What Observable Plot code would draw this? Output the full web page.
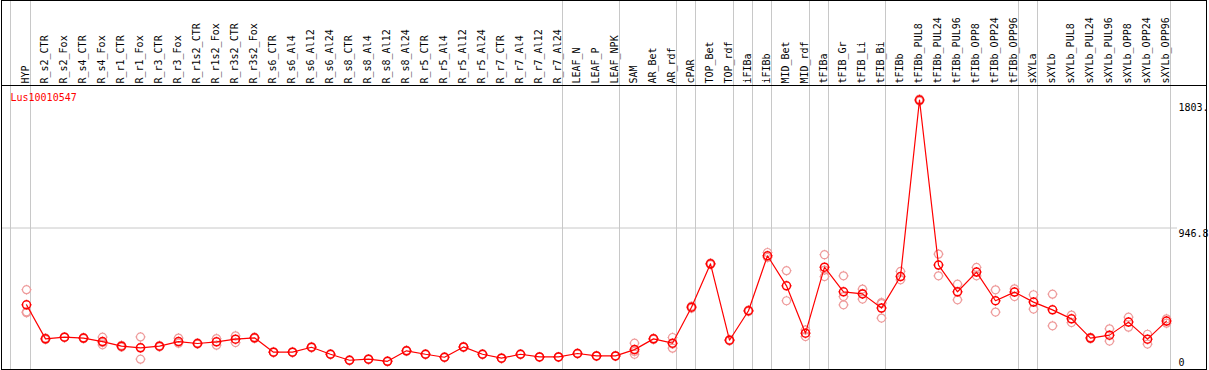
<!DOCTYPE html>
<html>
<head>
<meta charset="utf-8">
<script src="https://cdn.jsdelivr.net/npm/d3@7"></script>
<script src="https://cdn.jsdelivr.net/npm/@observablehq/plot@0.6"></script>
<style>
  html, body { margin: 0; padding: 0; background: white; }
  svg { display: block; }
</style>
</head>
<body>
<div id="chart"></div>
<script>
const geneId = "Lus10010547";

const samples = [
  "HYP","R_s2_CTR","R_s2_Fox","R_s4_CTR","R_s4_Fox","R_r1_CTR","R_r1_Fox","R_r3_CTR","R_r3_Fox",
  "R_r1s2_CTR","R_r1s2_Fox","R_r3s2_CTR","R_r3s2_Fox","R_s6_CTR","R_s6_Al4","R_s6_Al12","R_s6_Al24",
  "R_s8_CTR","R_s8_Al4","R_s8_Al12","R_s8_Al24","R_r5_CTR","R_r5_Al4","R_r5_Al12","R_r5_Al24",
  "R_r7_CTR","R_r7_Al4","R_r7_Al12","R_r7_Al24","LEAF_N","LEAF_P","LEAF_NPK","SAM","AR_Bet","AR_rdf",
  "cPAR","TOP_Bet","TOP_rdf","iFIBa","iFIBb","MID_Bet","MID_rdf","tFIBa","tFIB_Gr","tFIB_Li","tFIB_Bi",
  "tFIBb","tFIBb_PUL8","tFIBb_PUL24","tFIBb_PUL96","tFIBb_OPP8","tFIBb_OPP24","tFIBb_OPP96",
  "sXYLa","sXYLb","sXYLb_PUL8","sXYLb_PUL24","sXYLb_PUL96","sXYLb_OPP8","sXYLb_OPP24","sXYLb_OPP96"
];

const means = [
  433, 205, 216, 210, 187, 156, 145, 156, 187,
  174, 185, 203, 212, 116, 116, 149, 102,
  62, 69, 55, 125, 102, 82, 151, 102,
  76, 102, 84, 84, 107, 91, 91, 133, 205, 176,
  417, 707, 196, 393, 761, 560, 243, 685, 520, 506, 411,
  622, 1803, 699, 520, 652, 460, 518,
  451, 399, 339, 210, 230, 317, 203, 324
];

const replicates = [
  [534, 386, 380], [200, 210], [214, 218], [206, 214], [216, 165, 180], [150, 162], [218, 69, 148], [152, 160], [210, 176],
  [170, 178], [207, 163], [225, 180], [208, 216], [114, 118], [114, 118], [146, 152], [100, 104],
  [60, 64], [67, 71], [53, 57], [122, 128], [100, 104], [80, 84], [148, 154], [100, 104],
  [74, 78], [100, 104], [82, 86], [82, 86], [105, 109], [89, 93], [89, 93], [176, 102, 121], [201, 209], [214, 143, 171],
  [410, 424], [702, 712], [192, 200], [388, 398], [783, 750], [661, 460], [265, 220], [768, 622, 665], [627, 488, 433], [538, 471, 509], [448, 344, 441],
  [656, 600], [1810, 1796], [772, 627], [571, 466], [683, 627], [533, 384], [540, 488],
  [500, 404], [504, 292], [364, 314], [205, 215], [272, 190], [350, 283], [236, 170], [339, 310]
];

// group separators are drawn after these samples
const groupEnds = ["HYP","R_r7_Al24","LEAF_NPK","AR_rdf","cPAR","TOP_rdf","iFIBa","iFIBb","MID_rdf","tFIBa","tFIB_Bi","tFIBb_OPP96","sXYLa","sXYLb_OPP96"];
const groupStart = ["HYP"];

const yMax = 1893.6;
const midTick = [946.8];
const midTickLabel = ["946.8"];
const zeroTick = [0];
const zeroTickLabel = ["0"];
const maxTick = [1803];
const maxTickLabel = ["1803."];

const meanData = samples.map((s, i) => ({sample: s, value: means[i]}));
const repData = samples.flatMap((s, i) => replicates[i].map(v => ({sample: s, value: v})));

const ringMarker = {
  draw(ctx) {
    const r = 4;
    ctx.moveTo(r, 0);
    ctx.arc(0, 0, r, 0, 2 * Math.PI);
    for (const [ux, uy] of [[1,0],[-1,0],[0,1],[0,-1]]) {
      ctx.moveTo(ux * r, uy * r);
      ctx.lineTo(ux * (r + 1), uy * (r + 1));
    }
  }
};

const gray = "#c8c8c8";

const chart = Plot.plot({
  width: 1209,
  height: 370,
  marginTop: 86,
  marginBottom: 1,
  marginLeft: 1,
  marginRight: 3,
  x: {type: "point", domain: samples, range: [26, 1166], padding: 0, axis: null},
  y: {domain: [0, yMax], axis: null},
  style: {fontFamily: "'DejaVu Sans Mono', monospace", fontSize: "10px", background: "white", color: "black"},
  marks: [
    Plot.ruleX(groupEnds, {x: d => d, stroke: gray, dx: 4, insetTop: -86}),
    Plot.ruleX(groupStart, {x: d => d, stroke: gray, dx: -16, insetTop: -86}),
    Plot.ruleY(midTick, {stroke: gray, insetRight: 29}),
    Plot.ruleY([yMax], {stroke: "black", dy: -1}),
    Plot.frame({stroke: "black", insetTop: -86}),
    Plot.text(samples, {x: d => d, frameAnchor: "top", dx: -1, dy: -3, rotate: -90, textAnchor: "start", lineAnchor: "middle", fill: "black"}),
    Plot.text([geneId], {frameAnchor: "top-left", dx: 9, dy: 7.5, textAnchor: "start", lineAnchor: "top", fill: "red"}),
    Plot.text(zeroTick, {y: d => d, text: (d, i) => zeroTickLabel[i], frameAnchor: "right", dx: -28, dy: -6.8, textAnchor: "start", lineAnchor: "middle", fill: "black"}),
    Plot.text(midTick, {y: d => d, text: (d, i) => midTickLabel[i], frameAnchor: "right", dx: -28, dy: 5.7, textAnchor: "start", lineAnchor: "middle", fill: "black"}),
    Plot.text(maxTick, {y: d => d, text: (d, i) => maxTickLabel[i], frameAnchor: "right", dx: -28, dy: 8, textAnchor: "start", lineAnchor: "middle", fill: "black"}),
    Plot.dot(repData, {x: "sample", y: "value", symbol: ringMarker, fill: "none", stroke: "#ee9a9a", strokeWidth: 1.2}),
    Plot.line(meanData, {x: "sample", y: "value", stroke: "red", strokeWidth: 1.2}),
    Plot.dot(meanData, {x: "sample", y: "value", symbol: ringMarker, fill: "none", stroke: "red", strokeWidth: 1.5})
  ]
});

document.getElementById("chart").appendChild(chart);
</script>
</body>
</html>
